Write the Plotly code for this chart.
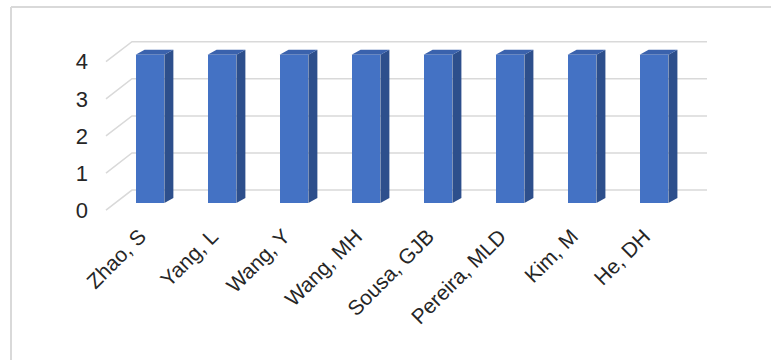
import plotly.graph_objects as go

# ---- data ----
categories = ["Zhao, S", "Yang, L", "Wang, Y", "Wang, MH", "Sousa, GJB",
              "Pereira, MLD", "Kim, M", "He, DH"]
values = [4, 4, 4, 4, 4, 4, 4, 4]
y_ticks = [0, 1, 2, 3, 4]

# ---- style / geometry constants ----
W, H = 771, 360
ML, MR, MT, MB = 100, 56, 32, 135
X_RANGE = [-0.694, 7.847]
Y_RANGE = [-0.4, 4.8]
BAR_W = 0.40          # front face width (category units)
DEPTH_DX = 0.125      # side face depth (x units)
DEPTH_DY = 0.135      # side face depth (y units)
FRONT_BASE = 0.19     # bar front sits slightly behind the label plane
WALL_DX_START = -0.611
WALL_DX_BACK = -0.25
WALL_X_END = 7.736
WALL_DY = 0.54
FRONT_COL = "#4472c4"
SIDE_COL = "#2d4f8c"
TOP_COL = "#3a62ad"
GRID_COL = "#d9d9d9"
FONT = "Liberation Sans, Arial, sans-serif"

xs = list(range(len(categories)))

fig = go.Figure()

# back wall gridlines with perspective diagonals (kept beneath the bars)
for t in y_ticks:
    fig.add_shape(
        type="path", xref="x", yref="y", layer="below",
        path=f"M {WALL_DX_START},{t} L {WALL_DX_BACK},{t + WALL_DY} L {WALL_X_END},{t + WALL_DY}",
        line=dict(color=GRID_COL, width=1.5))

# front faces
fig.add_trace(go.Bar(
    x=xs, y=values, base=[FRONT_BASE] * len(values), width=BAR_W,
    marker=dict(color=FRONT_COL, line=dict(width=0)),
    showlegend=False))

# side faces
sx, sy = [], []
for x, v in zip(xs, values):
    r = x + BAR_W / 2
    sx += [r, r + DEPTH_DX, r + DEPTH_DX, r, r, None]
    sy += [FRONT_BASE, FRONT_BASE + DEPTH_DY, FRONT_BASE + v + DEPTH_DY,
           FRONT_BASE + v, FRONT_BASE, None]
fig.add_trace(go.Scatter(x=sx, y=sy, mode="lines", fill="toself",
                         fillcolor=SIDE_COL, line=dict(width=0, color=SIDE_COL),
                         hoverinfo="skip", showlegend=False))

# top faces
tx, ty = [], []
for x, v in zip(xs, values):
    l, r = x - BAR_W / 2, x + BAR_W / 2
    top = FRONT_BASE + v
    tx += [l, r, r + DEPTH_DX, l + DEPTH_DX, l, None]
    ty += [top, top, top + DEPTH_DY, top + DEPTH_DY, top, None]
fig.add_trace(go.Scatter(x=tx, y=ty, mode="lines", fill="toself",
                         fillcolor=TOP_COL, line=dict(width=0, color=TOP_COL),
                         hoverinfo="skip", showlegend=False))

# chart border (top and left edges visible)
pw = W - ML - MR
ph = H - MT - MB
def px(p):
    return (p - ML) / pw
def py(p):
    return (H - MB - p) / ph

fig.add_shape(type="line", xref="paper", yref="paper",
              x0=px(11), x1=px(W + 5), y0=py(7), y1=py(7),
              line=dict(color="#d9d9d9", width=2))
fig.add_shape(type="line", xref="paper", yref="paper",
              x0=px(11), x1=px(11), y0=py(7), y1=py(H + 5),
              line=dict(color="#d9d9d9", width=2))

fig.update_layout(
    width=W, height=H,
    margin=dict(l=ML, r=MR, t=MT, b=MB),
    paper_bgcolor="white", plot_bgcolor="white",
    font=dict(family=FONT, size=21, color="#262626"),
    bargap=0,
    xaxis=dict(range=X_RANGE, tickmode="array", tickvals=xs,
               ticktext=categories, tickangle=-45, showgrid=False,
               zeroline=False, showline=False, ticks="",
               ticklabelshift=-10, ticklabelstandoff=-6,
               tickfont=dict(size=21)),
    yaxis=dict(range=Y_RANGE, tickmode="array", tickvals=y_ticks,
               showgrid=False, zeroline=False, showline=False, ticks="",
               ticklabelstandoff=11, tickfont=dict(size=22)),
)

fig.write_html("out.html")
